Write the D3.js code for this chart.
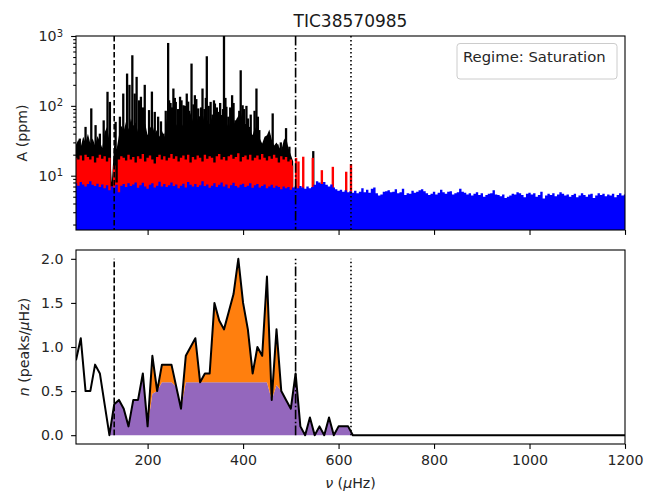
<!DOCTYPE html>
<html>
<head>
<meta charset="utf-8">
<script src="https://cdn.jsdelivr.net/npm/d3@7"></script>
<style>
  body { margin: 0; background: #fff; }
  svg { display: block; font-family: "DejaVu Sans", sans-serif; }
</style>
</head>
<body>
<svg id="chart" width="657" height="494"></svg>
<script>
// ---------------- data ----------------
const starName = "TIC38570985";
const regimeLabel = "Regime: Saturation";

// Amplitude spectrum layers, sampled on a regular frequency grid (µHz)
const specStart = 50, specStep = 5;

// background noise level (blue), 50 .. 1200 µHz
const blueLevel = [
  7.8,7.2,8.1,7.5,7.0,7.6,8.3,7.4,7.1,7.7,
  6.9,7.5,6.6,7.3,6.2,7.0,6.8,7.4,5.8,7.2,
  7.6,6.9,7.8,7.1,7.5,8.0,6.7,7.3,7.9,7.0,
  6.5,7.4,7.8,6.8,7.2,8.2,7.0,7.6,6.9,7.3,
  8.0,7.1,7.5,6.6,7.2,7.7,6.8,8.1,7.4,7.0,
  7.6,6.9,7.3,8.3,7.1,7.5,6.7,7.2,7.8,6.9,
  7.4,8.0,7.0,7.5,6.6,7.3,7.9,7.1,6.8,7.4,
  7.7,6.9,7.2,7.8,6.7,7.3,7.6,6.8,7.1,7.5,
  6.6,7.0,7.4,6.7,7.2,6.9,6.4,7.0,6.6,6.9,
  6.3,6.8,7.0,6.6,7.1,6.8,6.5,7.0,6.6,6.9,
  7.4,8.3,8.0,7.6,8.1,7.4,7.0,7.5,6.8,6.4,
  6.1,6.3,5.9,6.2,5.8,6.0,5.7,6.1,5.6,5.9,
  6.6,5.8,6.3,5.7,6.5,6.8,5.6,5.2,5.4,5.9,
  6.0,6.2,5.8,5.9,6.4,5.6,5.8,6.5,5.3,5.6,
  5.5,6.1,5.7,5.9,6.2,6.4,6.0,5.6,5.3,5.5,
  5.9,5.4,5.7,6.3,5.8,5.5,5.9,6.0,5.4,5.6,
  5.8,6.5,5.9,5.7,5.4,5.6,5.2,5.5,5.8,5.3,
  5.6,5.0,5.3,5.5,5.6,6.2,5.4,5.3,5.1,5.4,
  4.8,5.0,5.2,5.5,5.4,5.8,5.6,5.3,4.9,5.5,
  5.7,5.4,5.6,5.0,5.3,5.9,4.7,5.2,5.5,5.3,
  5.6,5.1,5.4,5.8,5.5,5.2,5.4,5.0,5.3,5.5,
  4.9,5.2,5.6,5.3,5.0,5.4,5.5,4.8,5.2,5.6,
  5.3,5.5,5.1,5.4,5.2,5.5,4.9,5.3,5.6,5.2,
  5.4
];

// resolved-mode level (red), 50 .. 505 µHz
const redLevel = [
  18,17,19.5,16.5,20,18.5,17,19,15.5,18,
  20,17.5,19,16,18,7,14,8,17,19,
  18,16.5,20,17,18.5,15.5,19,17.5,20.5,16,
  18,19.5,17,15,18.5,20,17,19,16.5,18,
  20.5,17.5,19,16,18,19.5,17,20,15.5,18.5,
  17,19.5,18,16,20,17.5,19,18,15.5,19,
  20.5,17,18.5,16.5,19,20,17.5,18.5,21,16,
  18.5,19.5,17,20,16.5,18,19.5,17,20.5,18,
  16.5,19,17.5,20,18,15.5,19,17,18.5,16,
  17,14
];
// isolated red peaks beyond the continuous part: [frequency, amplitude]
const redPeaks = [
  [511,18],[516,16],[526,18.7],[546,18],[565,12],[588,13.4],[616,11.4],[626,14.7]
];

// full spectrum continuum (black), 50 .. 505 µHz
const blackLevel = [
  28,33,26,36,30,40,29,34,27,37,
  31,25,42,50,32,8,28,24,38,52,
  44,60,46,66,52,58,42,50,40,56,
  38,48,54,40,46,36,44,36,64,72,
  58,75,52,64,48,56,70,54,80,60,
  50,66,72,58,84,62,54,70,48,60,
  52,64,74,58,48,68,54,62,72,84,
  58,48,54,44,38,50,42,34,29,36,
  38,46,33,27,30,26,23,32,36,25,
  20,16
];
// individual oscillation peaks in the full spectrum: [frequency, amplitude]
const blackPeaks = [
  [58,34],[70,50],[82,92],[91,53],[100,40],[108,62],[116,159],[121,114],[133,59],
  [142,70],[149,150],[157,290],[162,200],[168,530],[173,150],[177,260],[182,120],
  [186,135],[190,95],[194,200],[203,87],[209,160],[215,82],[222,70],[228,60],
  [233,40],[238,85],[243,795],[248,110],[254,177],[259,114],[264,90],[268,135],
  [275,102],[282,150],[287,85],[292,403],[299,142],[306,92],[310,70],[315,177],
  [319,90],[324,513],[332,114],[336,75],[341,108],[348,82],[355,74],[360,1100],
  [365,97],[369,70],[377,142],[384,62],[389,66],[395,323],[399,102],[404,55],
  [410,66],[414,50],[419,38],[428,177],[434,45],[444,25],[455,38],[462,78],
  [472,28],[479,30],[490,48],[497,26],[547,22.5],
  [245,120],[251,95],[257,130],[271,120],[278,100],[285,115],[296,105],[302,125],
  [312,95],[322,130],[328,100],[339,120],[345,95],[352,110],[358,90],[363,130],
  [373,95],[380,110],[392,85],[402,90],[407,100],[416,75],[424,85],[431,70]
];

// Peak density n(ν), on a 10 µHz grid from 50 to 1200 µHz
const densStart = 50, densStep = 10;
const densTotal = [
  0.85,1.1,0.5,0.5,0.8,0.7,0.35,0.0,0.35,0.4,
  0.3,0.1,0.4,0.4,0.7,0.1,0.9,0.5,0.8,0.8,
  0.8,0.55,0.3,0.9,1.0,1.1,0.6,0.7,0.7,1.5,
  1.3,1.2,1.4,1.6,2.0,1.5,1.2,0.7,1.0,0.9,
  1.8,0.4,1.2,0.5,0.4,0.3,0.7,0.1,0.0,0.2,
  0.0,0.1,0.0,0.2,0.0,0.1,0.1,0.1,0.0,0.0,
  0,0,0,0,0,0,0,0,0,0,
  0,0,0,0,0,0,0,0,0,0,
  0,0,0,0,0,0,0,0,0,0,
  0,0,0,0,0,0,0,0,0,0,
  0,0,0,0,0,0,0,0,0,0,
  0,0,0,0,0,0
];
// baseline part of the density (purple); null where not shaded
const densBase = [
  null,null,null,null,null,null,null,0.0,0.35,0.4,
  0.3,0.1,0.4,0.4,0.7,0.1,0.47,0.5,0.6,0.6,
  0.6,0.55,0.3,0.6,0.6,0.6,0.6,0.6,0.6,0.6,
  0.6,0.6,0.6,0.6,0.6,0.6,0.6,0.6,0.6,0.6,
  0.6,0.4,0.57,0.5,0.4,0.3,0.7,0.1,0.0,0.2,
  0.0,0.1,0.0,0.2,0.0,0.1,0.1,0.1,0.0,null,
  null,null,null,null,null,null,null,null,null,null,
  null,null,null,null,null,null,null,null,null,null,
  null,null,null,null,null,null,null,null,null,null,
  null,null,null,null,null,null,null,null,null,null,
  null,null,null,null,null,null,null,null,null,null,
  null,null,null,null,null,null
];

// frequency markers: lower edge, upper edge, upper limit (µHz)
const markerFreq = [130, 510, 626];

// axis ticks
const xTicks = [200, 400, 600, 800, 1000, 1200];
const ampTicks = [10, 100, 1000];
const densTicks = [0, 0.5, 1.0, 1.5, 2.0];

// ---------------- layout ----------------
const svg = d3.select("#chart");
const L = 76, R = 625;
const top1 = 36, bot1 = 230;
const top2 = 250, bot2 = 444;
const tickFont = 14.2;

const x = d3.scaleLinear().domain([50, 1200]).range([L, R]);
const yA = d3.scaleLog().domain([1.67, 1000]).range([bot1, top1]);
const yN = d3.scaleLinear().domain([-0.1, 2.1]).range([bot2, top2]);

const markerDash = ["5.6,2.4", "9.6,2.4,1.5,2.4", "1.5,2.5"];

const defs = svg.append("defs");
defs.append("clipPath").attr("id", "clipTop")
  .append("rect").attr("x", L).attr("y", top1).attr("width", R - L).attr("height", bot1 - top1);
defs.append("clipPath").attr("id", "clipBot")
  .append("rect").attr("x", L).attr("y", top2).attr("width", R - L).attr("height", bot2 - top2);

// ---------------- top panel: amplitude spectrum ----------------
const gTop = svg.append("g").attr("clip-path", "url(#clipTop)");
const fSpec = (d, i) => x(specStart + i * specStep);

// full spectrum: continuum + individual peaks
gTop.append("path")
  .attr("d", d3.area().x(fSpec).y0(bot1).y1(d => yA(d)).curve(d3.curveLinear)(blackLevel))
  .attr("fill", "#000");
gTop.selectAll("line.bpk").data(blackPeaks).join("line")
  .attr("class", "bpk")
  .attr("x1", d => x(d[0])).attr("x2", d => x(d[0]))
  .attr("y1", bot1).attr("y2", d => yA(d[1]))
  .attr("stroke", "#000").attr("stroke-width", 2.3);

// resolved modes
gTop.append("path")
  .attr("d", d3.area().x(fSpec).y0(bot1).y1(d => yA(d)).curve(d3.curveStep)(redLevel))
  .attr("fill", "#ff0000");
gTop.selectAll("line.rpk").data(redPeaks).join("line")
  .attr("class", "rpk")
  .attr("x1", d => x(d[0])).attr("x2", d => x(d[0]))
  .attr("y1", bot1).attr("y2", d => yA(d[1]))
  .attr("stroke", "#ff0000").attr("stroke-width", 2.4);

// background
gTop.append("path")
  .attr("d", d3.area().x(fSpec).y0(bot1).y1(d => yA(d)).curve(d3.curveStep)(blueLevel))
  .attr("fill", "#0000ff");

// markers, full height
gTop.selectAll("line.mk").data(markerFreq).join("line")
  .attr("class", "mk")
  .attr("x1", d => x(d)).attr("x2", d => x(d))
  .attr("y1", top1).attr("y2", bot1)
  .attr("stroke", "#000").attr("stroke-width", 1.6)
  .attr("stroke-dasharray", (d, i) => markerDash[i]);

// ---------------- bottom panel: peak density ----------------
const gBot = svg.append("g").attr("clip-path", "url(#clipBot)");
const dens = densTotal.map((v, i) => ({ f: densStart + i * densStep, n: v, b: densBase[i] }));

gBot.append("path")
  .attr("d", d3.area().defined(d => d.b != null)
    .x(d => x(d.f)).y0(yN(0)).y1(d => yN(d.b))(dens))
  .attr("fill", "#9467bd");
gBot.append("path")
  .attr("d", d3.area().defined(d => d.b != null)
    .x(d => x(d.f)).y0(d => yN(d.b)).y1(d => yN(d.n))(dens))
  .attr("fill", "#ff7f0e");

const nMax = d3.max(densTotal);
gBot.selectAll("line.mk").data(markerFreq).join("line")
  .attr("class", "mk")
  .attr("x1", d => x(d)).attr("x2", d => x(d))
  .attr("y1", yN(0)).attr("y2", yN(nMax))
  .attr("stroke", "#000").attr("stroke-width", 1.6)
  .attr("stroke-dasharray", (d, i) => markerDash[i]);

gBot.append("path")
  .attr("d", d3.line().x(d => x(d.f)).y(d => yN(d.n))(dens))
  .attr("fill", "none").attr("stroke", "#000").attr("stroke-width", 2)
  .attr("stroke-linejoin", "round");

// ---------------- axes ----------------
function styleAxis(g) {
  g.select(".domain").remove();
  g.attr("font-family", "DejaVu Sans, sans-serif").attr("font-size", tickFont);
  g.selectAll(".tick line").attr("stroke", "#000").attr("stroke-width", 1.1);
  g.selectAll(".tick text").attr("fill", "#262626");
}

// top: x ticks without labels
svg.append("g").attr("transform", `translate(0,${bot1})`)
  .call(d3.axisBottom(x).tickValues(xTicks).tickSize(4.9).tickFormat(""))
  .call(styleAxis);

// top: log y major + minor ticks
const minorA = yA.ticks().filter(v => !ampTicks.includes(v) && v >= 1.67);
svg.append("g").attr("transform", `translate(${L},0)`)
  .call(d3.axisLeft(yA).tickValues(minorA).tickSize(2.8).tickFormat(""))
  .call(styleAxis);
svg.append("g").attr("transform", `translate(${L},0)`)
  .call(d3.axisLeft(yA).tickValues(ampTicks).tickSize(4.9).tickFormat(""))
  .call(styleAxis);
ampTicks.forEach(v => {
  const t = svg.append("text")
    .attr("x", 63).attr("y", yA(v)).attr("dy", "0.36em")
    .attr("text-anchor", "end").attr("font-size", tickFont).attr("fill", "#262626");
  t.append("tspan").text("10");
  t.append("tspan").attr("dy", "-0.45em").attr("font-size", 10)
    .text(String(Math.round(Math.log10(v))));
});

// bottom: x axis with labels
svg.append("g").attr("transform", `translate(0,${bot2})`)
  .call(d3.axisBottom(x).tickValues(xTicks).tickSize(4.9).tickPadding(6.5).tickFormat(d3.format("d")))
  .call(styleAxis);

// bottom: y axis
svg.append("g").attr("transform", `translate(${L},0)`)
  .call(d3.axisLeft(yN).tickValues(densTicks).tickSize(4.9).tickPadding(7.5).tickFormat(d3.format(".1f")))
  .call(styleAxis);

// frames
[[top1, bot1], [top2, bot2]].forEach(([t, b]) => {
  svg.append("rect").attr("x", L).attr("y", t).attr("width", R - L).attr("height", b - t)
    .attr("fill", "none").attr("stroke", "#000").attr("stroke-width", 1.1);
});

// ---------------- text ----------------
svg.append("text").attr("x", (L + R) / 2).attr("y", 27)
  .attr("text-anchor", "middle").attr("font-size", 17).attr("fill", "#1a1a1a")
  .text(starName);

svg.append("text")
  .attr("transform", `translate(27,${(top1 + bot1) / 2}) rotate(-90)`)
  .attr("text-anchor", "middle").attr("font-size", tickFont).attr("fill", "#262626")
  .text("A (ppm)");

const yl = svg.append("text")
  .attr("transform", `translate(29,${(top2 + bot2) / 2}) rotate(-90)`)
  .attr("text-anchor", "middle").attr("font-size", tickFont).attr("fill", "#262626");
yl.append("tspan").attr("font-style", "italic").text("n");
yl.append("tspan").text(" (peaks/");
yl.append("tspan").attr("font-style", "italic").text("\u03bc");
yl.append("tspan").text("Hz)");

const xl = svg.append("text").attr("x", (L + R) / 2).attr("y", 488)
  .attr("text-anchor", "middle").attr("font-size", tickFont).attr("fill", "#262626");
xl.append("tspan").attr("font-style", "italic").text("\u03bd");
xl.append("tspan").text(" (");
xl.append("tspan").attr("font-style", "italic").text("\u03bc");
xl.append("tspan").text("Hz)");

// legend box
svg.append("rect").attr("x", 457).attr("y", 43.5).attr("width", 160).attr("height", 35.5)
  .attr("rx", 3).attr("fill", "#fff").attr("fill-opacity", 0.8)
  .attr("stroke", "#cccccc").attr("stroke-width", 1);
svg.append("text").attr("x", 463).attr("y", 62)
  .attr("font-size", 14.8).attr("fill", "#262626").text(regimeLabel);
</script>
</body>
</html>
